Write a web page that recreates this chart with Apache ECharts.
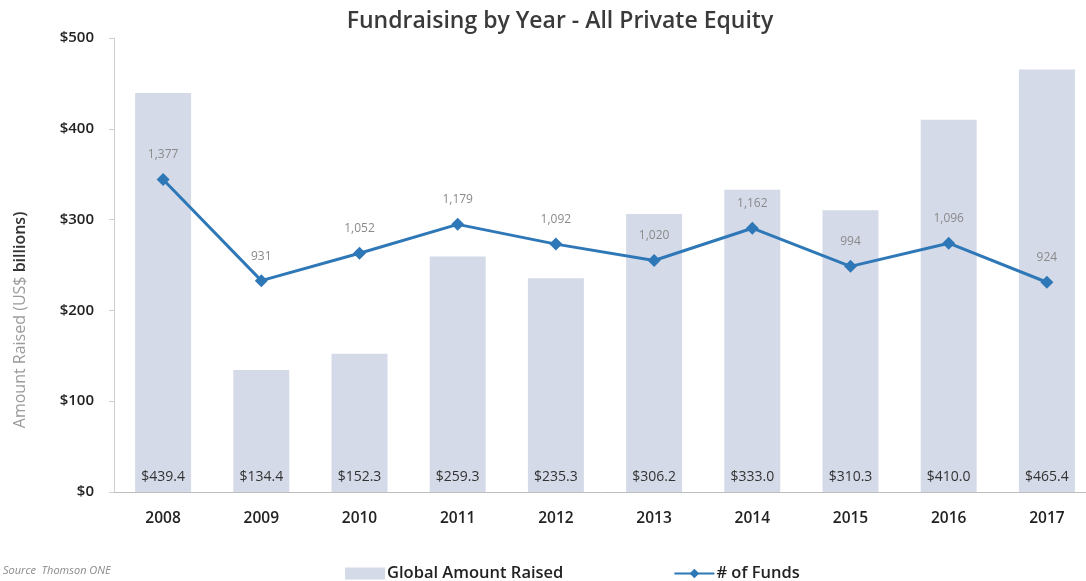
<!DOCTYPE html>
<html><head><meta charset="utf-8">
<script src="https://cdn.jsdelivr.net/npm/echarts@6/dist/echarts.min.js"></script>
<style>html,body{margin:0;padding:0;background:#fff}#c{width:1086px;height:581px}</style>
</head><body><div id="c"></div>
<script>
const years = ['2008','2009','2010','2011','2012','2013','2014','2015','2016','2017'];
const amountRaised = [439.4,134.4,152.3,259.3,235.3,306.2,333.0,310.3,410.0,465.4];
const numFunds = [1377,931,1052,1179,1092,1020,1162,994,1096,924];
const yTicks = [0,100,200,300,400,500];

const chart = echarts.init(document.getElementById('c'));
const font = '"Open Sans", "Liberation Sans", sans-serif';
chart.setOption({
  animation:false,
  textStyle:{fontFamily:font},
  title:{text:'Fundraising by Year - All Private Equity',left:555,textAlign:'center',top:5,
    textStyle:{fontSize:23,fontWeight:600,color:'#3a3a3a',fontFamily:font}},
  grid:{left:114,width:982,top:38,bottom:89,outerBoundsMode:'none',containLabel:false},
  legend:{left:340,top:560,itemWidth:40,itemHeight:12,itemGap:110,
    textStyle:{fontSize:16.5,fontWeight:600,color:'#222',fontFamily:font,padding:[0,0,0,-3]},
    data:[{name:'Global Amount Raised',icon:'rect'},{name:'# of Funds'}]},
  graphic:[{type:'text',left:3,top:565,style:{text:'Source  Thomson ONE',fontStyle:'italic',fontSize:11,fill:'#8a8a8a',fontFamily:font}}],
  xAxis:{type:'category',data:years,
    axisLine:{lineStyle:{color:'#bdbdbd'}},axisTick:{show:false},
    axisLabel:{margin:19,fontSize:15.5,fontWeight:600,color:'#222'}},
  yAxis:[{type:'value',min:0,max:500,interval:100,
    name:'{g|Amount Raised (US$ }{b|billions)}',nameLocation:'middle',nameGap:86,nameRotate:90,
    nameTextStyle:{padding:[0,110,0,0],rich:{g:{fontSize:16,color:'#9a9a9a',fontFamily:font},b:{fontSize:16,color:'#333',fontWeight:600,fontFamily:font}}},
    axisLine:{show:true,lineStyle:{color:'#cfcfcf'}},axisTick:{show:true,length:5,lineStyle:{color:'#cfcfcf'}},
    splitLine:{show:false},
    axisLabel:{margin:20,fontSize:15,fontWeight:600,color:'#222',formatter:v=>'$'+v}},
   {type:'value',min:0,max:2000,show:false,splitLine:{show:false}}],
  series:[
    {name:'Global Amount Raised',type:'bar',data:amountRaised,barWidth:'57%',
      itemStyle:{color:'#d5dae9'},
      label:{show:true,position:'insideBottom',distance:8,fontSize:14,color:'#333',
        formatter:p=>'$'+p.value.toFixed(1)}},
    {name:'# of Funds',type:'line',yAxisIndex:1,data:numFunds,
      symbol:'diamond',symbolSize:13,
      lineStyle:{color:'#2f78b7',width:3},itemStyle:{color:'#2f78b7'},
      label:{show:true,position:'top',distance:12,fontSize:12,color:'#8a8a8a',
        formatter:p=>p.value.toLocaleString('en-US')}}
  ]
});
</script></body></html>
